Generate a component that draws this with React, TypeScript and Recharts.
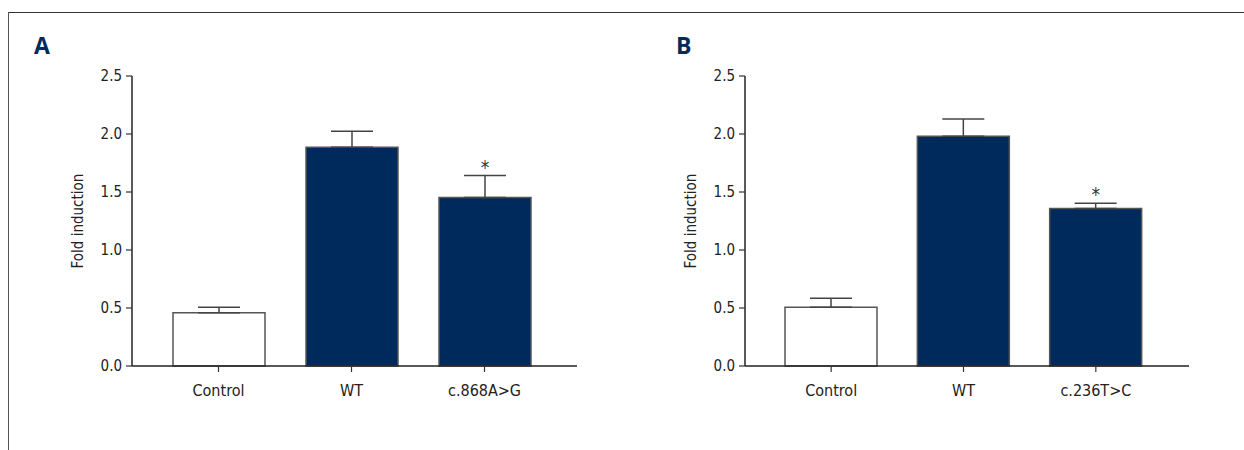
import React from "react";
import {
  BarChart,
  Bar,
  XAxis,
  YAxis,
  ErrorBar,
  Cell,
  LabelList,
} from "recharts";

// panel A
const categoriesA = ["Control", "WT", "c.868A>G"];
const meansA = [0.46, 1.885, 1.452];
const semA = [0.046, 0.138, 0.19];
const sigA = [false, false, true];

// panel B
const categoriesB = ["Control", "WT", "c.236T>C"];
const meansB = [0.506, 1.98, 1.357];
const semB = [0.077, 0.15, 0.045];
const sigB = [false, false, true];

const yTicks = [0, 0.5, 1.0, 1.5, 2.0, 2.5];

const NAVY = "#002a5c";
const FONT = "'Liberation Sans Narrow', 'DejaVu Sans Condensed', 'Open Sans', sans-serif";

function buildRows(cats: string[], means: number[], sem: number[], sig: boolean[]) {
  return cats.map((c, i) => ({
    name: c,
    value: means[i],
    err: [0, sem[i]],
    sem: sem[i],
    star: sig[i] ? "*" : "",
  }));
}

interface PanelProps {
  letter: string;
  rows: ReturnType<typeof buildRows>;
  left: number;
  width: number;
  marginLeft: number;
  yAxisWidth: number;
  marginRight: number;
  padL: number;
  padR: number;
  labelDx: number;
  letterX: number;
}

function Panel(p: PanelProps) {
  const renderStar = (props: any) => {
    const { x, y, width, height, index } = props;
    const row = p.rows[index];
    if (!row || !row.star) return null;
    const perUnit = height / row.value;
    const errTop = y - row.sem * perUnit;
    return (
      <text
        x={x + width / 2}
        y={errTop - 2}
        textAnchor="middle"
        fontSize={19}
        fontFamily={FONT}
        fill="#333"
      >
        *
      </text>
    );
  };

  return (
    <div style={{ position: "absolute", left: p.left, top: 0 }}>
      <div
        style={{
          position: "absolute",
          left: p.letterX,
          top: 30,
          fontFamily: "'Open Sans', 'DejaVu Sans', sans-serif",
          fontWeight: 700,
          fontSize: 23,
          color: NAVY,
          lineHeight: "30px",
        }}
      >
        {p.letter}
      </div>
      <BarChart
        width={p.width}
        height={450}
        data={p.rows}
        margin={{ top: 76, bottom: 0, left: p.marginLeft, right: p.marginRight }}
      >
        <XAxis
          dataKey="name"
          padding={{ left: p.padL, right: p.padR }}
          axisLine={{ stroke: "#222", strokeWidth: 1.5 }}
          tickLine={{ stroke: "#333", strokeWidth: 1.2 }}
          tickSize={6}
          tickMargin={13}
          tick={{ fill: "#222", fontSize: 16, fontFamily: FONT }}
          height={84}
        />
        <YAxis
          domain={[0, 2.5]}
          ticks={yTicks}
          tickFormatter={(v: number) => v.toFixed(1)}
          width={p.yAxisWidth}
          axisLine={{ stroke: "#222", strokeWidth: 1.5 }}
          tickLine={{ stroke: "#333", strokeWidth: 1.2 }}
          tickSize={6}
          tickMargin={4}
          tick={{ fill: "#222", fontSize: 15, fontFamily: FONT }}
          label={{
            value: "Fold induction",
            angle: -90,
            position: "center",
            dx: p.labelDx,
            style: { fill: "#222", fontSize: 15, fontFamily: FONT, textAnchor: "middle" },
          }}
        />
        <Bar
          dataKey="value"
          barSize={92}
          stroke="#555"
          strokeWidth={1.5}
          isAnimationActive={false}
        >
          {p.rows.map((r, i) => (
            <Cell key={`c-${i}`} fill={i === 0 ? "#ffffff" : NAVY} />
          ))}
          <ErrorBar
            dataKey="err"
            direction="y"
            width={21}
            stroke="#444"
            strokeWidth={1.5}
            isAnimationActive={false}
          />
          <LabelList dataKey="star" content={renderStar} />
        </Bar>
      </BarChart>
    </div>
  );
}

export default function App() {
  const rowsA = buildRows(categoriesA, meansA, semA, sigA);
  const rowsB = buildRows(categoriesB, meansB, semB, sigB);
  return (
    <div
      style={{
        position: "absolute",
        left: 0,
        top: 0,
        width: 1244,
        height: 450,
        background: "#fff",
        overflow: "hidden",
      }}
    >
      <div
        style={{
          position: "absolute",
          left: 8,
          top: 12,
          width: 1244,
          height: 450,
          borderTop: "1.5px solid #333",
          borderLeft: "1px solid #555",
        }}
      />
      <Panel
        letter="A"
        rows={rowsA}
        left={0}
        width={600}
        marginLeft={60}
        yAxisWidth={72}
        marginRight={23}
        padL={20}
        padR={26}
        labelDx={-18}
        letterX={34}
      />
      <Panel
        letter="B"
        rows={rowsB}
        left={620}
        width={620}
        marginLeft={60}
        yAxisWidth={65}
        marginRight={51}
        padL={20}
        padR={27}
        labelDx={-22}
        letterX={56}
      />
    </div>
  );
}
